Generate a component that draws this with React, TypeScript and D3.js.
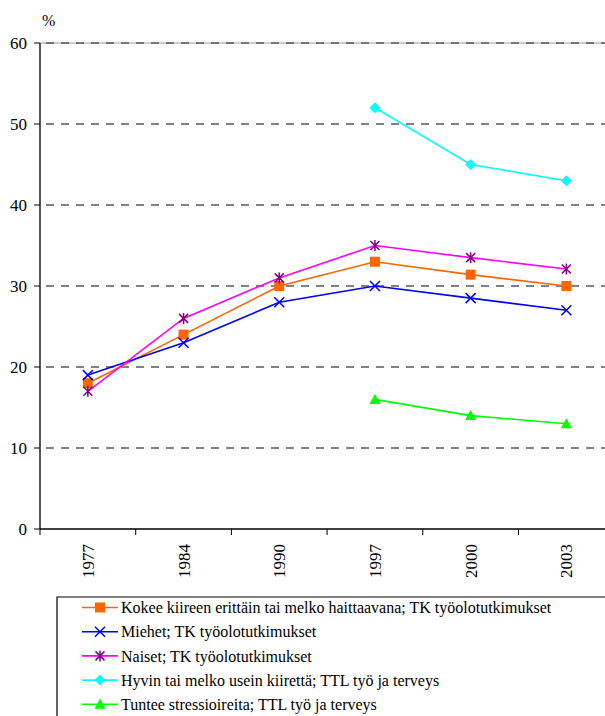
import React from "react";
import * as d3 from "d3";

const years = ["1977", "1984", "1990", "1997", "2000", "2003"];
const kokee = [18, 24, 30, 33, 31.4, 30];
const miehet = [19, 23, 28, 30, 28.5, 27];
const naiset = [17, 26, 31, 35, 33.5, 32.1];
const hyvin = [null, null, null, 52, 45, 43];
const tuntee = [null, null, null, 16, 14, 13];
const yTicks = [0, 10, 20, 30, 40, 50, 60];
const legendLabels = [
  "Kokee kiireen erittäin tai melko haittaavana; TK työolotutkimukset",
  "Miehet; TK työolotutkimukset",
  "Naiset; TK työolotutkimukset",
  "Hyvin tai melko usein kiirettä; TTL työ ja terveys",
  "Tuntee stressioireita; TTL työ ja terveys",
];

type Series = { values: (number | null)[]; line: string; marker: string; shape: string; label: string };
const series: Series[] = [
  { values: kokee, line: "#FF6600", marker: "#FF6600", shape: "square", label: legendLabels[0] },
  { values: miehet, line: "#0000FF", marker: "#0000FF", shape: "x", label: legendLabels[1] },
  { values: naiset, line: "#FF00FF", marker: "#800080", shape: "star", label: legendLabels[2] },
  { values: hyvin, line: "#00FFFF", marker: "#00FFFF", shape: "diamond", label: legendLabels[3] },
  { values: tuntee, line: "#00FF00", marker: "#00FF00", shape: "triangle", label: legendLabels[4] },
];

const FONT = "Liberation Serif, DejaVu Serif, serif";
const tStyle = { fontFamily: FONT };

function Marker({ shape, x, y, color }: { shape: string; x: number; y: number; color: string }) {
  if (shape === "square") return <rect x={x - 5} y={y - 5} width={10} height={10} fill={color} />;
  if (shape === "x")
    return (
      <path d={`M${x - 5},${y - 5}L${x + 5},${y + 5}M${x - 5},${y + 5}L${x + 5},${y - 5}`} stroke={color} strokeWidth={1.5} />
    );
  if (shape === "star")
    return (
      <path
        d={`M${x - 4.5},${y - 4.5}L${x + 4.5},${y + 4.5}M${x - 4.5},${y + 4.5}L${x + 4.5},${y - 4.5}M${x},${y - 5.5}L${x},${y + 5.5}`}
        stroke={color}
        strokeWidth={1.5}
      />
    );
  if (shape === "diamond") return <path d={`M${x},${y - 5.5}L${x + 5.5},${y}L${x},${y + 5.5}L${x - 5.5},${y}Z`} fill={color} />;
  return <path d={`M${x},${y - 5.5}L${x + 5.5},${y + 4.5}L${x - 5.5},${y + 4.5}Z`} fill={color} />;
}

export default function App() {
  const W = 605, H = 716;
  const left = 40, bottom = 529, top = 43;
  const bandW = 95.7;
  const x = d3.scaleBand<string>().domain(years).range([left, left + bandW * years.length]);
  const y = d3.scaleLinear().domain([0, 60]).range([bottom, top]);
  const cx = (yr: string) => (x(yr) as number) + x.bandwidth() / 2;
  const line = d3
    .line<number | null>()
    .defined((d) => d !== null)
    .x((_, i) => cx(years[i]))
    .y((d) => y(d as number));

  const legTop = 597, legLeft = 57, rowH = 24.2, row0 = 607.5;

  return (
    <svg width={W} height={H} style={{ position: "absolute", left: 0, top: 0, background: "#fff", fontFamily: FONT }}>
      <rect width={W} height={H} fill="#fff" />
      {yTicks.filter((t) => t > 0).map((t) => (
        <g key={t}>
          {t === 60 && <line x1={left} x2={W} y1={y(t)} y2={y(t)} stroke="#9a9a9a" strokeWidth={1} />}
          <line x1={left} x2={W} y1={y(t)} y2={y(t)} stroke="#5a5a5a" strokeWidth={1.3} strokeDasharray="8,7" strokeDashoffset={-6} />
        </g>
      ))}
      <line x1={left} x2={left} y1={top} y2={bottom} stroke="#000" strokeWidth={1.3} />
      {yTicks.map((t) => (
        <g key={t}>
          <line x1={left - 6} x2={left} y1={y(t)} y2={y(t)} stroke="#000" strokeWidth={1} />
          <text x={27} y={y(t)} dy="0.35em" textAnchor="end" fontSize={17} fill="#000" style={tStyle}>
            {t}
          </text>
        </g>
      ))}
      <text x={42} y={26} fontSize={16} fill="#000" style={tStyle}>%</text>
      <line x1={left} x2={W} y1={bottom} y2={bottom} stroke="#000" strokeWidth={1.3} />
      {d3.range(years.length + 1).map((i) => (
        <line key={i} x1={left + i * bandW} x2={left + i * bandW} y1={bottom} y2={bottom + 6} stroke="#000" strokeWidth={1} />
      ))}
      {years.map((yr) => (
        <text
          key={yr}
          transform={`translate(${cx(yr)},${bottom + 15}) rotate(-90)`}
          dy="0.35em"
          textAnchor="end"
          fontSize={17}
          fill="#000"
          style={tStyle}
        >
          {yr}
        </text>
      ))}
      {series.map((s, si) => (
        <g key={si}>
          <path d={line(s.values) || ""} fill="none" stroke={s.line} strokeWidth={1.6} />
          {s.values.map((v, i) =>
            v === null ? null : <Marker key={i} shape={s.shape} x={cx(years[i])} y={y(v)} color={s.marker} />
          )}
        </g>
      ))}
      <path d={`M${legLeft},${H}L${legLeft},${legTop}L${W},${legTop}`} fill="none" stroke="#000" strokeWidth={1.2} />
      {series.map((s, i) => {
        const ry = row0 + i * rowH;
        return (
          <g key={i}>
            <line x1={82} x2={118} y1={ry} y2={ry} stroke={s.line} strokeWidth={1.6} />
            <Marker shape={s.shape} x={100} y={ry} color={s.marker} />
            <text x={121} y={ry} dy="0.35em" fontSize={16} fill="#000" style={tStyle}>
              {s.label}
            </text>
          </g>
        );
      })}
    </svg>
  );
}
